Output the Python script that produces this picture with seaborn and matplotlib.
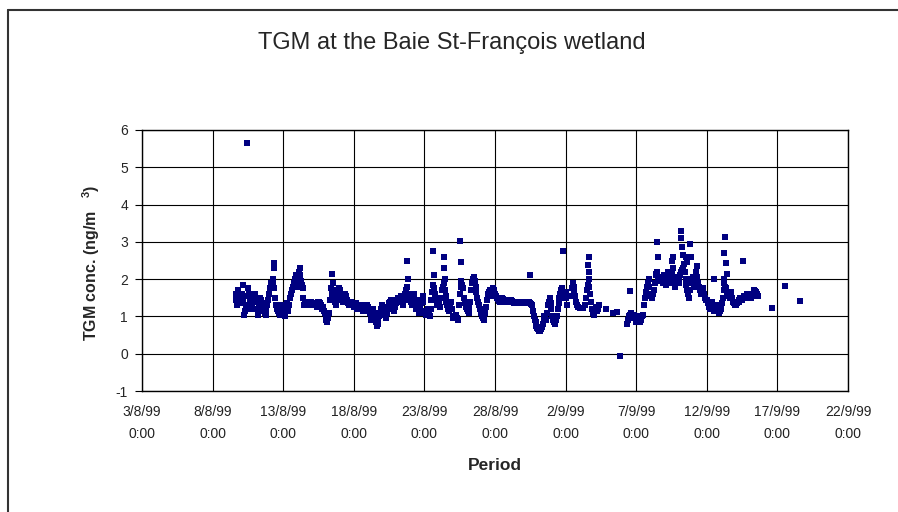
'TGM time series at the Baie St-Francois wetland'
import numpy as np
import pandas as pd
import matplotlib
matplotlib.use("Agg")
import matplotlib.pyplot as plt
import seaborn as sns

nan = np.nan

# readings every 1.5 h starting 9/8/99 15:00 (nan = no data)
tgm_wk1 = [
    1.6, 1.45, 1.3, 1.7, 1.5, 1.35,                                                   # 9/8
    1.45, 1.6, 1.85, 1.4, 1.05, 1.15, 1.3, 1.55, 1.75, 1.6, 1.4, 1.3, 1.2, 1.35, 1.5, 1.45,      # 10/8
    1.6, 1.4, 1.2, 1.1, 1.05, 1.3, 1.5, 1.45, 1.35, 1.25, 1.15, 1.1, 1.05, 1.2, 1.3, 1.45,       # 11/8
    1.6, 1.75, 1.9, 1.8, 2.0, 1.85, 1.75, 1.5, 1.3, 1.2, 1.15, 1.1, 1.05, 1.2, 1.3, 1.25,        # 12/8
    1.2, 1.1, 1.0, 1.2, 1.35, 1.25, 1.15, 1.3, 1.5, 1.6, 1.7, 1.8, 1.9, 2.0, 2.1, 1.95,          # 13/8
    1.8, 2.05, 2.2, 2.1, 1.95, 1.85, 1.75, 1.5, 1.3, 1.35, 1.4, 1.35, 1.35, 1.3, 1.3, 1.35,      # 14/8
    1.4, 1.35, 1.3, 1.32, 1.35, 1.3, 1.25, 1.35, 1.4, 1.38, 1.35, 1.3, 1.2, 1.25, 1.15, 1.1,     # 15/8
]
tgm_wk2 = [
    1.0, 0.9, 0.85, 0.95, 1.1, 1.45, 1.75, 1.6, 1.9, 1.7, 1.5, 1.4, 1.3, 1.45, 1.6, 1.75,        # 16/8
    1.7, 1.6, 1.5, 1.45, 1.4, 1.5, 1.6, 1.55, 1.45, 1.4, 1.35, 1.3, 1.3, 1.4, 1.35, 1.3,         # 17/8
    1.25, 1.3, 1.35, 1.25, 1.2, 1.25, 1.3, 1.28, 1.25, 1.2, 1.15, 1.25, 1.3, 1.25, 1.2, 1.3,     # 18/8
    1.25, 1.15, 1.1, 1.0, 0.9, 1.05, 1.2, 1.1, 1.0, 0.85, 0.75, 0.8, 0.9, 1.0, 1.1, 1.2,         # 19/8
    1.3, 1.25, 1.2, 1.05, 0.95, 1.0, 1.1, 1.25, 1.35, 1.4, 1.45, 1.35, 1.3, 1.2, 1.15, 1.25,     # 20/8
    1.35, 1.45, 1.5, 1.45, 1.4, 1.5, 1.55, 1.4, 1.3, 1.45, 1.6, 1.7, 1.8, 1.6, 1.45, 1.5,        # 21/8
    1.5, 1.4, 1.3, 1.45, 1.6, 1.4, 1.2, 1.3, 1.45, 1.25, 1.1, 1.2, 1.35, 1.45, 1.55, 1.4,        # 22/8
]
tgm_wk3 = [
    1.15, 1.1, 1.05, 1.15, 1.2, 1.1, 1.0, 1.2, 1.45, 1.65, 1.85, 1.75, 1.6, 1.45, 1.3, 1.4,      # 23/8
    1.5, 1.35, 1.25, 1.5, 1.7, 1.8, 1.9, 1.7, 1.55, 1.4, 1.3, 1.2, 1.15, 1.3, 1.4, 1.2,          # 24/8
    1.0, 0.95, 0.95, 1.0, 1.05, 0.95, 0.9, 1.3, 1.6, 1.8, 1.95, 1.85, 1.75, 1.5, 1.35, 1.25,     # 25/8
    1.2, 1.15, 1.1, 1.25, 1.4, 1.7, 1.9, 2.0, 2.05, 1.95, 1.8, 1.65, 1.5, 1.4, 1.3, 1.2,         # 26/8
    1.1, 1.0, 0.95, 0.9, 1.0, 1.1, 1.25, 1.45, 1.6, 1.65, 1.7, 1.6, 1.55, 1.65, 1.75, 1.7,       # 27/8
    1.6, 1.55, 1.5, 1.48, 1.45, 1.42, 1.4, 1.45, 1.5, 1.47, 1.45, 1.42, 1.4, 1.43, 1.45, 1.42,   # 28/8
    1.4, 1.42, 1.45, 1.42, 1.4, 1.38, 1.35, 1.37, 1.4, 1.39, 1.38, 1.36, 1.35, 1.38, 1.4, 1.4,   # 29/8
]
tgm_wk4 = [
    1.4, 1.38, 1.35, 1.38, 1.4, 1.39, 1.38, 1.36, 1.35, 1.33, 1.3, 1.15, 1.0, 0.9, 0.85, 0.75,   # 30/8
    0.7, 0.65, 0.6, 0.62, 0.65, 0.72, 0.8, 0.9, 1.0, 0.95, 0.9, 1.1, 1.3, 1.4, 1.5, 1.35,        # 31/8
    1.2, 1.0, 0.9, 0.85, 0.8, 0.9, 1.0, 1.2, 1.35, 1.5, 1.6, 1.7, 1.75, 1.6, 1.5, 1.6,           # 1/9
    1.65, 1.5, 1.3, nan, nan, nan, 1.55, 1.75, 1.9, 1.8, 1.7, 1.55, 1.4, 1.3, 1.25, nan,         # 2/9
    1.22, nan, nan, nan, 1.22, nan, 1.3, 1.5, 1.7, 1.85, 2.0, 1.8, 1.6, 1.4, 1.2, 1.1,           # 3/9
    1.05, 1.15, 1.25, 1.2, 1.15, 1.2, 1.3, nan, nan, nan, nan, nan, nan, nan, 1.2, nan,          # 4/9
    nan, nan, nan, nan, nan, nan, 1.1, nan, nan, nan, 1.12, nan, nan, nan, -0.05, nan,           # 5/9
]
tgm_wk5 = [
    nan, nan, nan, nan, nan, nan, 0.8, 0.9, 1.0, 1.05, 1.1, 1.0, 0.95, 1.0, 1.05, 0.95,          # 6/9
    0.85, 0.9, 1.0, 0.9, 0.85, 0.9, 0.95, 1.0, 1.05, 1.3, 1.5, 1.65, 1.8, 1.9, 2.0, 1.8,         # 7/9
    1.6, 1.55, 1.5, 1.6, 1.7, 1.9, 2.1, 2.15, 2.2, 2.05, 1.95, 2.0, 2.05, 1.95, 1.9, 2.0,        # 8/9
    2.1, 1.95, 1.85, 2.0, 2.2, 2.1, 1.95, 1.9, 2.0, 2.15, 2.3, 2.0, 1.8, 1.9, 2.05, 2.0,         # 9/9
    1.9, 2.0, 2.1, 2.2, 2.25, 2.3, 2.4, 2.2, 2.0, 1.85, 1.7, 1.6, 1.5, 1.7, 1.9, 2.0,            # 10/9
    2.05, 1.95, 1.8, 2.0, 2.2, 2.05, 1.9, 1.8, 1.7, 1.65, 1.6, 1.7, 1.75, 1.6, 1.5, 1.45,        # 11/9
    1.45, 1.35, 1.3, 1.25, 1.2, 1.3, 1.4, 1.3, 1.15, 1.2, 1.3, 1.28, 1.25, 1.15, 1.1, 1.15,      # 12/9
]
tgm_wk6 = [
    1.2, 1.35, 1.5, 1.7, 1.9, 1.8, 1.75, 1.65, 1.6, 1.55, 1.5, 1.6, 1.65, 1.5, 1.4, 1.35,        # 13/9
    1.3, 1.32, 1.35, 1.38, 1.4, 1.45, 1.5, 1.48, 1.45, 1.5, 1.55, 1.52, 1.5, 1.55, 1.6, 1.58,    # 14/9
    1.55, 1.52, 1.5, 1.55, 1.6, 1.65, 1.7, 1.68, 1.65, 1.6, 1.55,                                # 15/9
]

# isolated readings (peaks and sparse late points)
extra_times = [
    "1999-08-10 11:00", "1999-08-12 08:00", "1999-08-12 09:00", "1999-08-14 05:00",
    "1999-08-16 11:00", "1999-08-21 19:00", "1999-08-21 20:00", "1999-08-23 14:00",
    "1999-08-23 16:00", "1999-08-24 09:00", "1999-08-24 10:00", "1999-08-24 11:00",
    "1999-08-25 13:00", "1999-08-25 14:00", "1999-08-30 12:00", "1999-09-01 19:00",
    "1999-09-03 14:00", "1999-09-03 15:00", "1999-09-03 16:00", "1999-09-06 13:00",
    "1999-09-08 11:00", "1999-09-08 13:00", "1999-09-09 13:00", "1999-09-09 14:00",
    "1999-09-10 04:00", "1999-09-10 05:00", "1999-09-10 06:00", "1999-09-10 07:00",
    "1999-09-10 13:00", "1999-09-10 14:00", "1999-09-10 20:00", "1999-09-10 21:00",
    "1999-09-11 07:00", "1999-09-12 12:00", "1999-09-13 05:00", "1999-09-13 06:00",
    "1999-09-13 07:00", "1999-09-13 08:00", "1999-09-13 10:00", "1999-09-14 14:00",
    "1999-09-16 15:00", "1999-09-17 13:00", "1999-09-18 15:00",
]
extra_values = [
    5.65, 2.43, 2.30, 2.30,
    2.14, 2.49, 2.00, 2.75,
    2.10, 2.60, 2.30, 2.00,
    3.02, 2.45, 2.10, 2.75,
    2.38, 2.60, 2.20, 1.68,
    3.00, 2.60, 2.50, 2.60,
    3.10, 3.30, 2.87, 2.65,
    2.60, 2.45, 2.95, 2.60,
    2.35, 2.00, 2.00, 2.70,
    3.13, 2.42, 2.15, 2.48,
    1.22, 1.82, 1.41,
]

tick_dates = ["1999-08-03", "1999-08-08", "1999-08-13", "1999-08-18", "1999-08-23",
              "1999-08-28", "1999-09-02", "1999-09-07", "1999-09-12", "1999-09-17",
              "1999-09-22"]
tick_labels = ["3/8/99", "8/8/99", "13/8/99", "18/8/99", "23/8/99", "28/8/99",
               "2/9/99", "7/9/99", "12/9/99", "17/9/99", "22/9/99"]
y_ticks = [-1, 0, 1, 2, 3, 4, 5, 6]


def build_frame():
    values = tgm_wk1 + tgm_wk2 + tgm_wk3 + tgm_wk4 + tgm_wk5 + tgm_wk6
    times = pd.date_range("1999-08-09 15:00", periods=len(values), freq="90min")
    main = pd.DataFrame({"time": times, "tgm": values})
    extra = pd.DataFrame({"time": pd.to_datetime(extra_times), "tgm": extra_values})
    return pd.concat([main, extra], ignore_index=True).dropna()


def main():
    df = build_frame()

    sns.set_style("white")
    plt.rcParams["font.family"] = ["Liberation Sans", "DejaVu Sans"]
    plt.rcParams["mathtext.fontset"] = "custom"
    plt.rcParams["mathtext.rm"] = "Liberation Sans"
    plt.rcParams["mathtext.bf"] = "Liberation Sans:bold"

    fig = plt.figure(figsize=(8.98, 5.12), dpi=100)
    ax = fig.add_axes([0.1581, 0.2363, 0.7862, 0.5098])

    sns.scatterplot(data=df, x="time", y="tgm", marker="s", s=13,
                    color="#000080", linewidth=0, ax=ax, legend=False, zorder=3)

    ax.set_xlim(pd.Timestamp("1999-08-03"), pd.Timestamp("1999-09-22"))
    ax.set_ylim(-1, 6)
    ax.set_yticks(y_ticks)
    ax.set_yticklabels([str(v) for v in y_ticks], fontsize=10)
    ax.set_xticks(pd.to_datetime(tick_dates))
    ax.set_xticklabels([f"{d}\n0:00" for d in tick_labels], fontsize=10,
                       linespacing=1.7, color="#222222")
    ax.tick_params(axis="x", length=0, pad=10)
    ax.tick_params(axis="y", length=5, width=0.8, color="black", pad=5, left=True)

    ax.grid(True, color="black", linewidth=0.8)
    ax.set_axisbelow(True)
    for sp in ax.spines.values():
        sp.set_color("black")
        sp.set_linewidth(1.0)

    ax.set_xlabel("Period", fontsize=12.5, fontweight="bold")
    ax.xaxis.set_label_coords(0.5, -0.287)
    ax.xaxis.label.set_va("center")
    ax.set_ylabel(r"TGM conc. (ng/m   $\mathbf{^{3}}$)", fontsize=11.5, fontweight="bold")
    ax.yaxis.set_label_coords(-0.057, 0.49)

    fig.text(0.503, 1 - 43 / 512, "TGM at the Baie St-Fran\u00e7ois wetland",
             ha="center", va="center", fontsize=17)

    # chart area frame (runs off the right and bottom of the image)
    left_x, top_y = 7.5 / 898, 1 - 10 / 512
    fig.add_artist(plt.Line2D([left_x, left_x], [0, top_y], color="#333333",
                              linewidth=1.5, transform=fig.transFigure))
    fig.add_artist(plt.Line2D([left_x, 1], [top_y, top_y], color="#333333",
                              linewidth=1.5, transform=fig.transFigure))

    fig.savefig("out.png", dpi=100)
    plt.close(fig)


if __name__ == "__main__":
    main()
